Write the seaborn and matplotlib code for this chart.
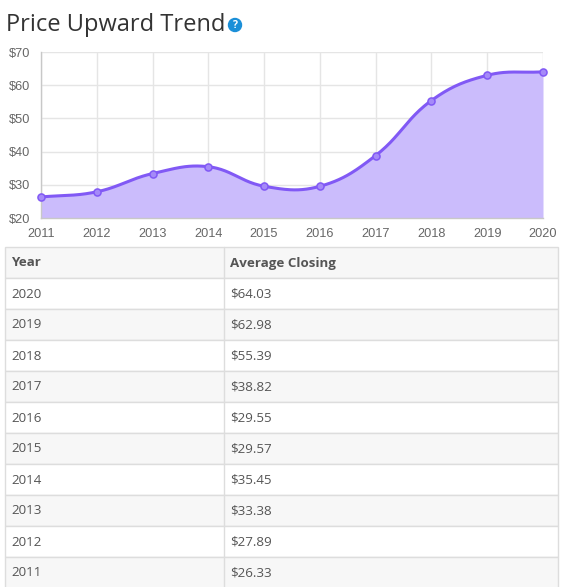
import numpy as np
import pandas as pd
import seaborn as sns
import matplotlib.pyplot as plt
from matplotlib.patches import Rectangle, Circle

# Average closing price per year
years = [2011, 2012, 2013, 2014, 2015, 2016, 2017, 2018, 2019, 2020]
closing = [26.33, 27.89, 33.38, 35.45, 29.57, 29.55, 38.82, 55.39, 62.98, 64.03]
y_ticks = [20, 30, 40, 50, 60, 70]
table_header = ["Year", "Average Closing"]

title = "Price Upward Trend"
line_color = "#8159f5"
fill_color = "#cbbcfc"

df = pd.DataFrame({"year": years, "closing": closing})

sns.set_style("white")
plt.rcParams["font.family"] = ["Liberation Sans", "DejaVu Sans"]

W, H = 562, 587
fig = plt.figure(figsize=(W / 100, H / 100), dpi=100)

# overlay in pixel coordinates for title and table
ov = fig.add_axes([0, 0, 1, 1], zorder=0)
ov.set_xlim(0, W)
ov.set_ylim(H, 0)
ov.axis("off")

ax = fig.add_axes([41 / W, 1 - 218 / H, 502 / W, 166 / H], zorder=1)
ax.set_xlim(years[0], years[-1])
ax.set_ylim(y_ticks[0], y_ticks[-1])


def spline(xs, ys, tension=0.4):
    # Chart.js style bezier through the points, computed in pixel space
    pts = ax.transData.transform(np.column_stack([xs, ys]))
    n = len(pts)
    cp_prev = np.zeros_like(pts)
    cp_next = np.zeros_like(pts)
    for i in range(n):
        prev = pts[max(i - 1, 0)]
        cur = pts[i]
        nxt = pts[min(i + 1, n - 1)]
        d01 = np.hypot(*(cur - prev))
        d12 = np.hypot(*(nxt - cur))
        s = d01 + d12
        fa = tension * d01 / s
        fb = tension * d12 / s
        cp_prev[i] = cur - fa * (nxt - prev)
        cp_next[i] = cur + fb * (nxt - prev)
    t = np.linspace(0, 1, 40)[:, None]
    out = []
    for i in range(n - 1):
        p0, p1, p2, p3 = pts[i], cp_next[i], cp_prev[i + 1], pts[i + 1]
        seg = ((1 - t) ** 3) * p0 + 3 * ((1 - t) ** 2) * t * p1 + 3 * (1 - t) * t ** 2 * p2 + t ** 3 * p3
        out.append(seg if i == 0 else seg[1:])
    out = np.vstack(out)
    return ax.transData.inverted().transform(out)


curve = spline(df["year"].values, df["closing"].values)
curve_df = pd.DataFrame({"year": curve[:, 0], "closing": curve[:, 1]})

ax.fill_between(curve_df["year"], curve_df["closing"], y_ticks[0],
                color=fill_color, lw=0, zorder=1)
sns.lineplot(data=curve_df, x="year", y="closing", sort=False, ax=ax,
             color=line_color, lw=2.2, zorder=3)
sns.scatterplot(data=df, x="year", y="closing", ax=ax, s=26,
                color="#a58af8", edgecolor=line_color, linewidth=1.1,
                zorder=4, clip_on=False)

ax.set_xticks(years)
ax.set_yticks(y_ticks)
ax.set_yticklabels([f"${v}" for v in y_ticks])
ax.set_xlabel("")
ax.set_ylabel("")
ax.grid(True, color="#e5e5e5", lw=1, zorder=0)
ax.set_axisbelow(True)
for side in ["top", "right"]:
    ax.spines[side].set_visible(False)
for side in ["left", "bottom"]:
    ax.spines[side].set_color("#c8c8c8")
    ax.spines[side].set_linewidth(1)
ax.tick_params(axis="y", length=7, width=1, color="#e0e0e0", labelsize=9.2,
               labelcolor="#666666", pad=1)
ax.tick_params(axis="x", length=0, labelsize=9.2, labelcolor="#666666", pad=7)
ax.set_facecolor("white")

# title and help icon
ov.text(6, 31, title, fontsize=17, color="#333333", family=["Open Sans", "DejaVu Sans"],
        va="baseline", ha="left")
ov.add_patch(Circle((235, 25), 6.5, color="#1b8fd8"))
ov.text(235, 25.5, "?", fontsize=7.5, color="white", fontweight="bold",
        ha="center", va="center", family=["Open Sans", "DejaVu Sans"])

# table
left, mid, right = 5, 224, 558
top, row_h = 247, 31
rows = [table_header] + [[str(y), f"${v:.2f}"] for y, v in zip(years[::-1], closing[::-1])]
for r, (c1, c2) in enumerate(rows):
    y0 = top + r * row_h
    bg = "#f7f7f7" if r % 2 == 0 else "white"
    ov.add_patch(Rectangle((left, y0), right - left, row_h, facecolor=bg,
                           edgecolor="#dddddd", lw=1))
    weight = "bold" if r == 0 else "normal"
    ov.text(left + 6, y0 + row_h / 2 + 0.5, c1, fontsize=9.6, color="#555555",
            fontweight=weight, va="center", ha="left", family=["Open Sans", "DejaVu Sans"])
    ov.text(mid + 6, y0 + row_h / 2 + 0.5, c2, fontsize=9.6, color="#555555",
            fontweight=weight, va="center", ha="left", family=["Open Sans", "DejaVu Sans"])
ov.plot([mid, mid], [top, top + len(rows) * row_h], color="#dddddd", lw=1)

fig.savefig("out.png", dpi=100)
